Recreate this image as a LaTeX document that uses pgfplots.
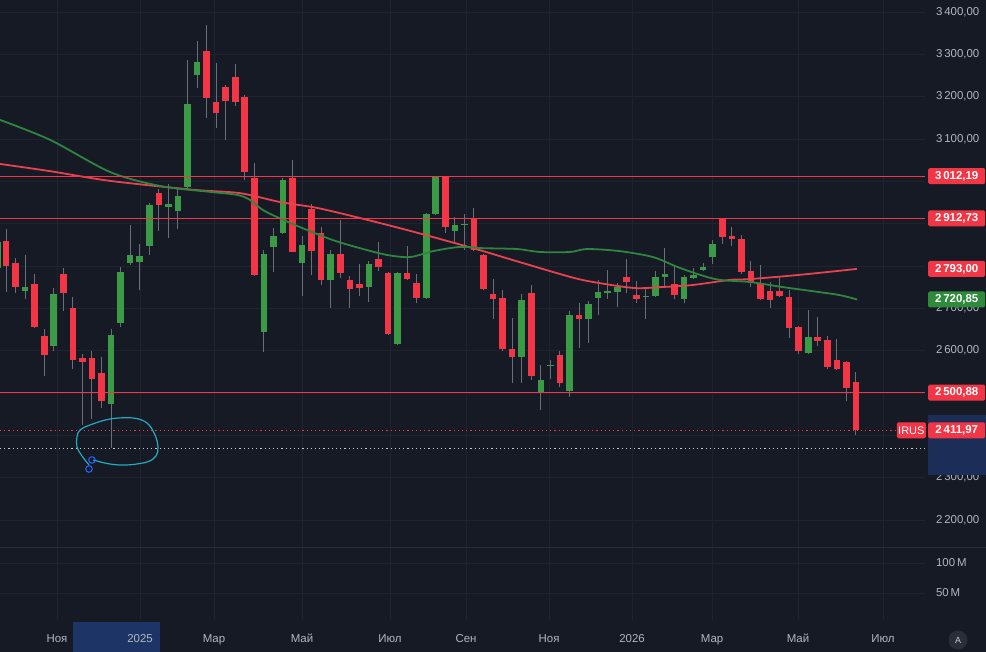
\documentclass[border=0pt]{standalone}
\usepackage{pgfplots}
\pgfplotsset{compat=1.18}
\usepackage{pgfplotstable}
\usepackage{fontspec}
\setmainfont{Liberation Sans}

\definecolor{cBg}{HTML}{161A25}
\definecolor{cGrid}{HTML}{1F2330}
\definecolor{cSep}{HTML}{2A2E39}
\definecolor{cText}{HTML}{B2B5BE}
\definecolor{cRed}{HTML}{F23645}
\definecolor{cGreen}{HTML}{3A9A46}
\definecolor{cGreenBox}{HTML}{2E8B3C}
\definecolor{cWick}{HTML}{6B6E79}
\definecolor{cMAred}{HTML}{E8424F}
\definecolor{cMAgreen}{HTML}{2F8540}
\definecolor{cHi}{HTML}{1C2D57}
\definecolor{cHiB}{HTML}{1D3566}
\definecolor{cCyan}{HTML}{22ABC0}
\definecolor{cBlue}{HTML}{2962FF}

% weekly candles, falling (close < open)
\pgfplotstableread{
i o h l c
0 2859 2887 2738 2800
1 2807 2819 2736 2750
3 2757 2781 2654 2656
4 2635 2651 2540 2590
6 2781 2795 2694 2736
7 2701 2727 2557 2578
8 2583 2592 2424 2573
9 2583 2599 2439 2533
10 2547 2585 2465 2481
16 2972 2982 2883 2944
21 3308 3369 3150 3197
22 3187 3280 3126 3161
23 3223 3228 3098 3190
24 3247 3277 3178 3187
25 3199 3203 3003 3022
26 3008 3043 2777 2779
30 3008 3050 2833 2833
32 2935 2946 2779 2835
33 2878 2892 2755 2767
35 2828 2909 2772 2783
36 2767 2776 2701 2746
37 2757 2805 2729 2748
39 2817 2857 2788 2798
40 2783 2785 2637 2639
42 2783 2847 2767 2769
43 2760 2781 2713 2724
46 3010 3012 2878 2892
49 2913 2937 2836 2838
50 2826 2828 2743 2746
51 2734 2769 2675 2722
52 2724 2743 2599 2604
53 2604 2677 2524 2585
55 2736 2755 2531 2540
58 2590 2599 2514 2524
60 2684 2713 2606 2675
65 2774 2816 2736 2762
66 2731 2765 2713 2722
70 2757 2800 2722 2731
75 2911 2913 2852 2868
76 2871 2892 2847 2864
77 2864 2873 2781 2786
78 2788 2812 2750 2760
79 2760 2802 2720 2722
80 2741 2762 2701 2720
81 2741 2776 2727 2729
82 2727 2743 2630 2654
83 2656 2658 2592 2599
85 2632 2680 2611 2623
86 2625 2635 2557 2561
87 2578 2628 2555 2557
88 2573 2576 2481 2512
89 2526 2550 2401 2411.97
}\downtab

% rising candles (close > open)
\pgfplotstableread{
i o h l c
-0.9 2795 2880 2743 2857
2 2741 2826 2722 2750
5 2611 2748 2599 2734
11 2474 2651 2370 2637
12 2665 2798 2656 2786
13 2807 2897 2802 2826
14 2809 2852 2743 2824
15 2847 2949 2826 2944
17 2939 2994 2866 2946
18 2930 2982 2887 2965
19 2987 3287 2980 3183
20 3251 3332 3221 3282
27 2644 2838 2597 2828
28 2845 2890 2786 2871
29 2878 3008 2876 3003
31 2807 2871 2729 2850
34 2767 2838 2701 2828
38 2750 2812 2715 2805
41 2616 2785 2613 2783
44 2724 2925 2722 2923
45 2923 3013 2920 3010
47 2883 2916 2857 2897
48 2898 2923 2838 2900
54 2585 2734 2524 2720
56 2500 2566 2460 2531
57 2565 2578 2533 2567
59 2505 2694 2491 2684
61 2675 2717 2618 2710
62 2724 2767 2684 2739
63 2736 2790 2722 2741
64 2739 2760 2703 2750
67 2728 2748 2675 2730
68 2729 2788 2727 2774
69 2774 2842 2750 2781
71 2722 2779 2713 2774
72 2772 2795 2770 2779
73 2790 2807 2788 2798
74 2821 2861 2805 2852
84 2595 2696 2593 2632
}\uptab

\pgfplotstableread{
i v
-0.63 3041
4.6 3024
10.9 3001
19.6 2980
24.5 2972
28.7 2951
32.6 2937
37.1 2913
42.3 2883
48.9 2842
53.8 2809
59.1 2774
61.5 2762
65.7 2748
68.5 2750
71.9 2755
75.8 2767
77.9 2769
83.1 2779
89.1 2793
}\redma

\pgfplotstableread{
i v
-0.63 3145
4.61 3098
10.89 3022
16.13 2989
21.36 2975
24.19 2968
25.55 2956
26.91 2932
29.01 2909
31.52 2885
34.24 2861
37.07 2842
39.90 2826
42.30 2821
44.71 2835
47.54 2845
49.95 2842
53.51 2840
55.92 2833
59.06 2833
60.84 2840
64.29 2835
67.75 2821
70.26 2798
72.67 2779
74.76 2767
77.91 2762
81.36 2750
84.92 2739
87.33 2731
89.11 2720.85
}\greenma

\tikzset{
  pbox/.style={fill=#1, text=white, font=\fontsize{11.5}{13}\selectfont\bfseries,
    rounded corners=1.5bp, minimum width=57bp, minimum height=16bp,
    inner sep=0pt, anchor=west},
}

\begin{document}
\begin{tikzpicture}[x=1bp,y=1bp]
\path[use as bounding box, fill=cBg] (0,0) rectangle (986,652);
% highlight boxes
\fill[cHiB] (73,0) rectangle (160,30);

\begin{axis}[
  at={(0bp,104bp)}, anchor=south west,
  width=925bp, height=548bp, scale only axis,
  xmin=-0.63, xmax=96.23, ymin=2133.7, ymax=3428.35,
  axis line style={draw=none},
  major tick length=0pt,
  xtick={5.34,14.03,21.78,30.99,40.21,48.17,56.86,65.55,73.93,82.93,91.83},
  xticklabels={},
  ytick={2200,2300,...,3400},
  yticklabels={{2\,200,00},{2\,300,00},{},{},{2\,600,00},{2\,700,00},{},{},{},{3\,100,00},{3\,200,00},{3\,300,00},{3\,400,00}},
  yticklabel pos=right,
  yticklabel style={anchor=west, xshift=7.5bp},
  grid=major, grid style={cGrid, line width=0.8bp},
  tick label style={font=\fontsize{11.5}{13}\selectfont, text=cText},
]
% wicks
\addplot[draw=none, mark=none, forget plot,
  error bars/.cd, y dir=plus, y explicit, error mark=none,
  error bar style={draw=cWick, line width=1bp}]
  table[x=i, y=l, y error expr={\thisrow{h}-\thisrow{l}}] {\downtab};
\addplot[draw=none, mark=none, forget plot,
  error bars/.cd, y dir=plus, y explicit, error mark=none,
  error bar style={draw=cWick, line width=1bp}]
  table[x=i, y=l, y error expr={\thisrow{h}-\thisrow{l}}] {\uptab};
% bodies
\addplot[draw=none, mark=none, forget plot,
  error bars/.cd, y dir=plus, y explicit, error mark=none,
  error bar style={draw=cRed, line width=6.6bp, line cap=butt}]
  table[x=i, y expr={min(\thisrow{o},\thisrow{c})}, y error expr={abs(\thisrow{c}-\thisrow{o})}] {\downtab};
\addplot[draw=none, mark=none, forget plot,
  error bars/.cd, y dir=plus, y explicit, error mark=none,
  error bar style={draw=cGreen, line width=6.6bp, line cap=butt}]
  table[x=i, y expr={min(\thisrow{o},\thisrow{c})}, y error expr={abs(\thisrow{c}-\thisrow{o})}] {\uptab};
% moving averages
\addplot[cMAred, line width=1.8bp, smooth, mark=none] table[x=i, y=v] {\redma};
\addplot[cMAgreen, line width=1.8bp, smooth, mark=none] table[x=i, y=v] {\greenma};
% horizontal levels
\draw[cRed, line width=0.9bp] (axis cs:-0.63,3012.19) -- (axis cs:96.23,3012.19);
\draw[cRed, line width=0.9bp] (axis cs:-0.63,2912.73) -- (axis cs:96.23,2912.73);
\draw[cRed, line width=0.9bp] (axis cs:-0.63,2500.88) -- (axis cs:96.23,2500.88);
\draw[cRed, line width=0.9bp, dash pattern=on 1.2bp off 3bp] (axis cs:-0.63,2411.97) -- (axis cs:93.3,2411.97);
\draw[cText!70, line width=0.9bp, dash pattern=on 1.2bp off 3bp] (axis cs:-0.63,2369) -- (axis cs:96.23,2369);
\end{axis}

\begin{axis}[
  at={(0bp,32bp)}, anchor=south west,
  width=925bp, height=72bp, scale only axis,
  xmin=-0.63, xmax=96.23, ymin=5, ymax=125,
  axis line style={draw=none},
  major tick length=0pt,
  xtick={5.34,14.03,21.78,30.99,40.21,48.17,56.86,65.55,73.93,82.93,91.83},
  xticklabels={Ноя,2025,Мар,Май,Июл,Сен,Ноя,2026,Мар,Май,Июл},
  xticklabel style={anchor=base, yshift=-23bp},
  ytick={50,100},
  yticklabels={{50\,M},{100\,M}},
  yticklabel pos=right,
  yticklabel style={anchor=west, xshift=7.5bp},
  grid=major, grid style={cGrid, line width=0.8bp},
  tick label style={font=\fontsize{11.5}{13}\selectfont, text=cText},
]
\end{axis}

% pane separator
\draw[cSep, line width=1bp] (0,104) -- (986,104);

% annotation
\draw[cCyan, line width=1.2bp] plot[smooth, tension=0.6] coordinates {
 (93,192) (110,188) (127,187) (147,190) (156,196) (158,205) (155,217)
 (147,229) (133,234) (110,233) (90,227) (80,222) (77,215) (77,205)
 (82,196) (89,187)};
\draw[cBlue, line width=1bp] (92,192) circle (3.3);
\draw[cBlue, line width=1bp] (89,183) circle (3.3);

% right-axis highlight and price labels
\fill[cHi] (928,177) rectangle (986,237);
\node[pbox=cRed] at (928,475.8) {3\,012,19};
\node[pbox=cRed] at (928,433.7) {2\,912,73};
\node[pbox=cRed] at (928,383.1) {2\,793,00};
\node[pbox=cGreenBox] at (928,352.5) {2\,720,85};
\node[pbox=cRed] at (928,259.4) {2\,500,88};
\node[pbox=cRed] at (928,221.7) {2\,411,97};
\node[fill=cRed, text=white, font=\fontsize{11}{13}\selectfont, rounded corners=1.5bp,
  minimum width=29bp, minimum height=16bp, inner sep=0pt, anchor=east] at (926,221.7) {IRUS};

% auto-scale button
\fill[cSep] (958,12) circle (9.5);
\node[text=cText!70, font=\fontsize{9}{10}\selectfont] at (958,12) {A};
\end{tikzpicture}
\end{document}
